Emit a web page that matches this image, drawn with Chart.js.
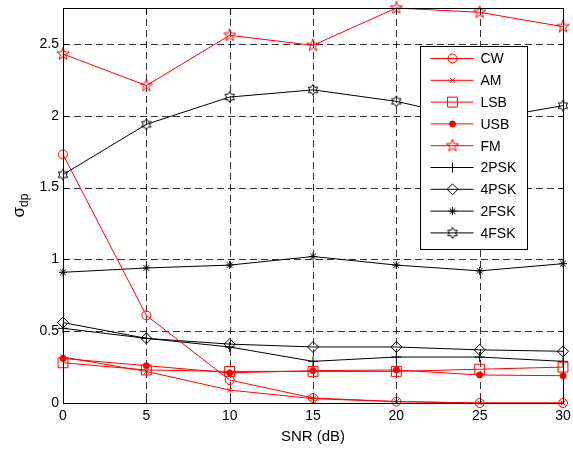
<!DOCTYPE html>
<html>
<head>
<meta charset="utf-8">
<script src="https://cdn.jsdelivr.net/npm/chart.js@4.4.0/dist/chart.umd.min.js"></script>
<style>
  html, body { margin: 0; padding: 0; background: #fff; }
  #wrap { width: 573px; height: 453px; }
</style>
</head>
<body>
<div id="wrap"><canvas id="grafico"></canvas></div>
<script>
/* dados */
const snr = [0, 5, 10, 15, 20, 25, 30];
const cw   = [1.73, 0.61, 0.16, 0.035, 0.01, 0.0, 0.0];
const am   = [0.32, 0.22, 0.09, 0.03, 0.01, 0.0, 0.0];
const lsb  = [0.28, 0.23, 0.22, 0.22, 0.22, 0.235, 0.25];
const usb  = [0.31, 0.26, 0.21, 0.225, 0.23, 0.195, 0.19];
const fm   = [2.43, 2.21, 2.56, 2.49, 2.75, 2.72, 2.62];
const psk2 = [0.52, 0.45, 0.39, 0.29, 0.32, 0.32, 0.29];
const psk4 = [0.56, 0.45, 0.41, 0.39, 0.39, 0.37, 0.36];
const fsk2 = [0.91, 0.94, 0.96, 1.02, 0.96, 0.92, 0.97];
const fsk4 = [1.59, 1.94, 2.13, 2.18, 2.10, 1.97, 2.07];

const xTicks = [0, 5, 10, 15, 20, 25, 30];
const yTicks = [0, 0.5, 1, 1.5, 2, 2.5];
const yMax = 2.75;

const FONTE = "'Liberation Sans', Arial, Helvetica, sans-serif";
const VERMELHO = '#ff0000';
const PRETO = '#000000';

// marcadores em estrela (pentagrama / hexagrama) desenhados num canvas
function estrela(pontas, rExt, rInt, cor) {
    const tam = Math.ceil(rExt * 2 + 3);
    const c = document.createElement('canvas');
    c.width = tam; c.height = tam;
    const g = c.getContext('2d');
    const cx = tam / 2, cy = tam / 2;
    g.beginPath();
    for (let i = 0; i < pontas * 2; i++) {
        const r = i % 2 === 0 ? rExt : rInt;
        const a = -Math.PI / 2 + i * Math.PI / pontas;
        const px = cx + r * Math.cos(a), py = cy + r * Math.sin(a);
        if (i === 0) g.moveTo(px, py); else g.lineTo(px, py);
    }
    g.closePath();
    g.strokeStyle = cor;
    g.lineWidth = 1;
    g.stroke();
    return c;
}

const pentagrama = estrela(5, 6.5, 2.6, VERMELHO);
const hexagrama = estrela(6, 5.5, 3.2, PRETO);

function serie(label, valores, cor, estilo, raio, cheio) {
    return {
        label: label,
        data: snr.map((s, i) => ({ x: s, y: valores[i] })),
        borderColor: cor,
        backgroundColor: cor,
        pointBorderColor: cor,
        pointBackgroundColor: cheio ? cor : 'rgba(0,0,0,0)',
        pointStyle: estilo,
        pointRadius: raio,
        pointBorderWidth: 1,
        borderWidth: 1,
        tension: 0,
        fill: false,
        clip: false
    };
}

const datasets = [
    serie('CW', cw, VERMELHO, 'circle', 4.5, false),
    serie('AM', am, VERMELHO, 'crossRot', 3.5, false),
    serie('LSB', lsb, VERMELHO, 'rect', 7, false),
    serie('USB', usb, VERMELHO, 'circle', 3, true),
    serie('FM', fm, VERMELHO, pentagrama, 6, false),
    serie('2PSK', psk2, PRETO, 'cross', 5, false),
    serie('4PSK', psk4, PRETO, 'rectRot', 5.5, false),
    serie('2FSK', fsk2, PRETO, 'star', 4, false),
    serie('4FSK', fsk4, PRETO, hexagrama, 5, false)
];

/* grade tracejada, moldura e marcas internas (estilo MATLAB) */
const moldura = {
    id: 'moldura',
    beforeDatasetsDraw(chart) {
        const { ctx, chartArea: a, scales: { x, y } } = chart;
        ctx.save();
        ctx.strokeStyle = 'rgba(0,0,0,0.8)';
        ctx.lineWidth = 1;
        ctx.setLineDash([7, 4]);
        xTicks.forEach(v => {
            if (v === xTicks[0] || v === xTicks[xTicks.length - 1]) return;
            const px = Math.round(x.getPixelForValue(v)) + 0.5;
            ctx.beginPath(); ctx.moveTo(px, a.top); ctx.lineTo(px, a.bottom); ctx.stroke();
        });
        yTicks.forEach(v => {
            if (v === 0) return;
            const py = Math.round(y.getPixelForValue(v)) + 0.5;
            ctx.beginPath(); ctx.moveTo(a.left, py); ctx.lineTo(a.right, py); ctx.stroke();
        });
        ctx.restore();
    },
    afterDatasetsDraw(chart) {
        const { ctx, chartArea: a, scales: { x, y } } = chart;
        ctx.save();
        ctx.strokeStyle = PRETO;
        ctx.lineWidth = 1;
        ctx.setLineDash([]);
        const L = Math.round(a.left) + 0.5, R = Math.round(a.right) + 0.5;
        const T = Math.round(a.top) + 0.5, B = Math.round(a.bottom) + 0.5;
        ctx.strokeRect(L, T, R - L, B - T);
        const tl = 5;
        xTicks.forEach(v => {
            const px = Math.round(x.getPixelForValue(v)) + 0.5;
            ctx.beginPath();
            ctx.moveTo(px, B); ctx.lineTo(px, B - tl);
            ctx.moveTo(px, T); ctx.lineTo(px, T + tl);
            ctx.stroke();
        });
        yTicks.forEach(v => {
            const py = Math.round(y.getPixelForValue(v)) + 0.5;
            ctx.beginPath();
            ctx.moveTo(L, py); ctx.lineTo(L + tl, py);
            ctx.moveTo(R, py); ctx.lineTo(R - tl, py);
            ctx.stroke();
        });

        // legenda dentro da área do gráfico
        const lx = R - 143, ly = T + 38, lw = 107, lh = 203;
        ctx.fillStyle = '#fff';
        ctx.fillRect(lx, ly, lw, lh);
        ctx.strokeRect(lx, ly, lw, lh);
        ctx.font = '14px ' + FONTE;
        ctx.textBaseline = 'middle';
        ctx.textAlign = 'left';
        chart.data.datasets.forEach((ds, i) => {
            const ry = ly + 12 + i * 21.8;
            ctx.strokeStyle = ds.borderColor;
            ctx.beginPath();
            ctx.moveTo(lx + 10, ry); ctx.lineTo(lx + 53, ry);
            ctx.stroke();
            ctx.fillStyle = ds.pointBackgroundColor;
            Chart.helpers.drawPoint(ctx, {
                pointStyle: ds.pointStyle,
                radius: ds.pointRadius,
                borderWidth: 1,
                rotation: 0
            }, lx + 32, ry);
            ctx.fillStyle = PRETO;
            ctx.fillText(ds.label, lx + 60, ry + 1);
        });

        // títulos dos eixos
        ctx.fillStyle = PRETO;
        ctx.font = '15px ' + FONTE;
        ctx.textAlign = 'center';
        ctx.textBaseline = 'middle';
        ctx.fillText('SNR (dB)', (a.left + a.right) / 2, 437);

        ctx.translate(19, (a.top + a.bottom) / 2);
        ctx.rotate(-Math.PI / 2);
        ctx.textAlign = 'left';
        ctx.textBaseline = 'alphabetic';
        ctx.font = '17px ' + FONTE;
        const ws = ctx.measureText('σ').width;
        ctx.font = '12px ' + FONTE;
        const wd = ctx.measureText('dp').width;
        const x0 = -(ws + wd) / 2;
        ctx.font = '17px ' + FONTE;
        ctx.fillText('σ', x0, 5);
        ctx.font = '12px ' + FONTE;
        ctx.fillText('dp', x0 + ws, 9);
        ctx.restore();
    }
};

function inicializarGrafico() {
    const ctx = document.getElementById('grafico').getContext('2d');
    new Chart(ctx, {
        type: 'line',
        data: { datasets: datasets },
        options: {
            responsive: true,
            maintainAspectRatio: false,
            animation: false,
            layout: { padding: { top: 7, right: 10, left: 0, bottom: 0 } },
            plugins: { legend: { display: false }, tooltip: { enabled: false } },
            scales: {
                x: {
                    type: 'linear',
                    min: 0,
                    max: 30,
                    afterBuildTicks: s => { s.ticks = xTicks.map(v => ({ value: v })); },
                    afterFit: s => { s.height = 50; s.paddingLeft = 0; s.paddingRight = 0; },
                    grid: { display: false, drawTicks: false },
                    border: { display: false },
                    ticks: {
                        color: PRETO,
                        padding: 5,
                        font: { family: FONTE, size: 14 },
                        callback: v => String(v)
                    }
                },
                y: {
                    type: 'linear',
                    min: 0,
                    max: yMax,
                    afterBuildTicks: s => { s.ticks = yTicks.map(v => ({ value: v })); },
                    afterFit: s => { s.width = 63; s.paddingTop = 0; s.paddingBottom = 0; },
                    grid: { display: false, drawTicks: false },
                    border: { display: false },
                    ticks: {
                        color: PRETO,
                        padding: 4,
                        font: { family: FONTE, size: 14 },
                        callback: v => String(v)
                    }
                }
            }
        },
        plugins: [moldura]
    });
}

window.onload = () => {
    inicializarGrafico();
};
</script>
</body>
</html>
